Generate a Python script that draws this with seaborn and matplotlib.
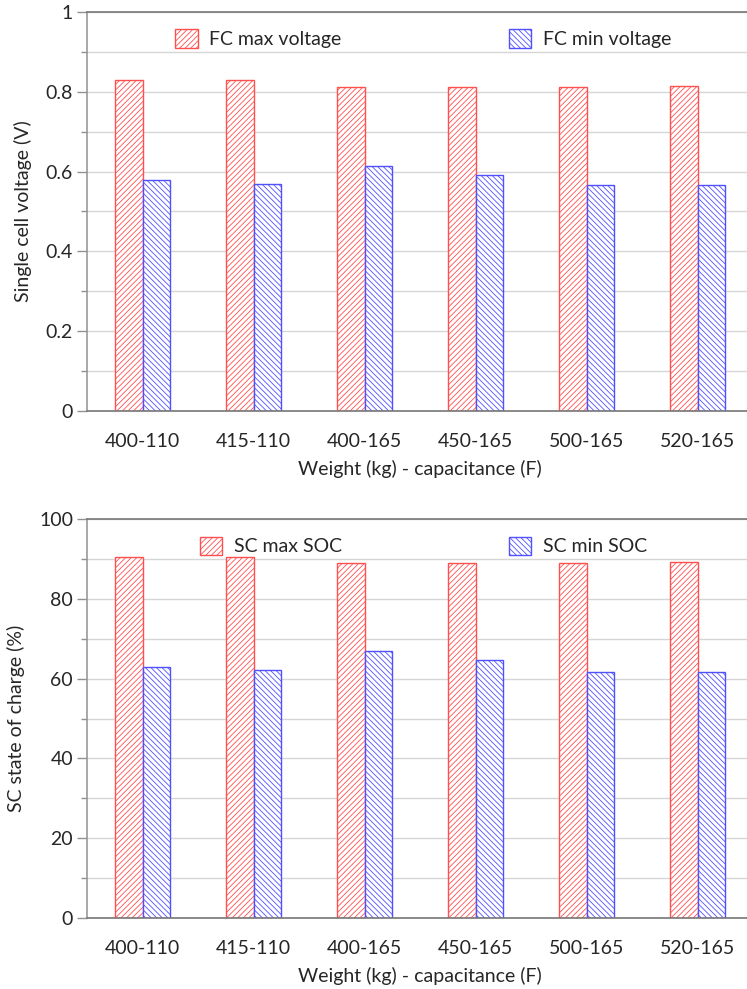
import numpy as np
import pandas as pd
import seaborn as sns
import matplotlib
matplotlib.use("Agg")
import matplotlib.pyplot as plt
from matplotlib.patches import Patch
from matplotlib.ticker import MultipleLocator

configs = ["400-110", "415-110", "400-165", "450-165", "500-165", "520-165"]
fc_max = [0.830, 0.830, 0.812, 0.812, 0.812, 0.815]
fc_min = [0.579, 0.569, 0.614, 0.591, 0.566, 0.566]
sc_max = [90.5, 90.5, 89.0, 89.0, 89.0, 89.2]
sc_min = [62.9, 62.1, 66.9, 64.7, 61.7, 61.6]

sns.set_theme(style="white")
plt.rcParams["font.family"] = ["Lato", "DejaVu Sans"]
plt.rcParams["hatch.linewidth"] = 0.6

RED = "#ff5050"
BLUE = "#5050ff"
HR = "//////"
HB = "\\\\\\\\\\\\"

fig = plt.figure(figsize=(7.47, 9.89), dpi=100)
H = 989.0
W = 747.0
ax1 = fig.add_axes([87 / W, 1 - 411 / H, 666 / W, 399 / H])
ax2 = fig.add_axes([87 / W, 1 - 918 / H, 666 / W, 399 / H])


def draw(ax, vmax, vmin, names, ylabel, ymax, major, minor):
    df = pd.DataFrame({
        "config": configs * 2,
        "value": list(vmax) + list(vmin),
        "series": [names[0]] * len(configs) + [names[1]] * len(configs),
    })
    sns.barplot(data=df, x="config", y="value", hue="series",
                palette=["white", "white"], width=0.5, ax=ax,
                legend=False, saturation=1)
    for cont, col, h in zip(ax.containers, [RED, BLUE], [HR, HB]):
        for p in cont:
            p.set_facecolor("white")
            p.set_edgecolor(col)
            p.set_hatch(h)
            p.set_linewidth(1.0)
    ax.set_ylim(0, ymax)
    ax.set_xlim(-0.5, len(configs) - 0.5)
    ax.yaxis.set_major_locator(MultipleLocator(major))
    ax.yaxis.set_minor_locator(MultipleLocator(minor))
    ax.grid(True, which="both", axis="y", color="#d6d6d6", linewidth=1.0)
    ax.set_axisbelow(True)
    ax.tick_params(axis="y", which="major", left=True, length=7, width=1,
                   color="#909090", labelsize=14, pad=3)
    ax.tick_params(axis="y", which="minor", left=True, length=4, width=1,
                   color="#909090")
    ax.tick_params(axis="x", bottom=False, labelsize=14, pad=10)
    ax.spines["left"].set_color("#999999")
    ax.spines["bottom"].set_color("#777777")
    ax.spines["top"].set_color("#777777")
    ax.spines["right"].set_visible(False)
    for s in ax.spines.values():
        s.set_linewidth(1.2)
    ax.set_ylabel(ylabel, fontsize=14, labelpad=10)
    ax.set_xlabel("Weight (kg) - capacitance (F)", fontsize=14, labelpad=7)
    handles = [Patch(facecolor="white", edgecolor=RED, hatch=HR, label=names[0]),
               Patch(facecolor="white", edgecolor=BLUE, hatch=HB, label=names[1])]
    ax.legend(handles=handles, loc="upper center", ncol=2, frameon=False,
              fontsize=14, columnspacing=8.6, handlelength=1.15,
              handleheight=1.05, handletextpad=0.6,
              bbox_to_anchor=(0.505, 1.0))


draw(ax1, fc_max, fc_min, ["FC max voltage", "FC min voltage"],
     "Single cell voltage (V)", 1.0, 0.2, 0.1)
ax1.yaxis.set_major_formatter(matplotlib.ticker.FuncFormatter(
    lambda v, p: "0" if abs(v) < 1e-9 else ("1" if abs(v - 1) < 1e-9 else f"{v:.1f}")))
draw(ax2, sc_max, sc_min, ["SC max SOC", "SC min SOC"],
     "SC state of charge (%)", 100, 20, 10)

fig.savefig("out.png", dpi=100)
